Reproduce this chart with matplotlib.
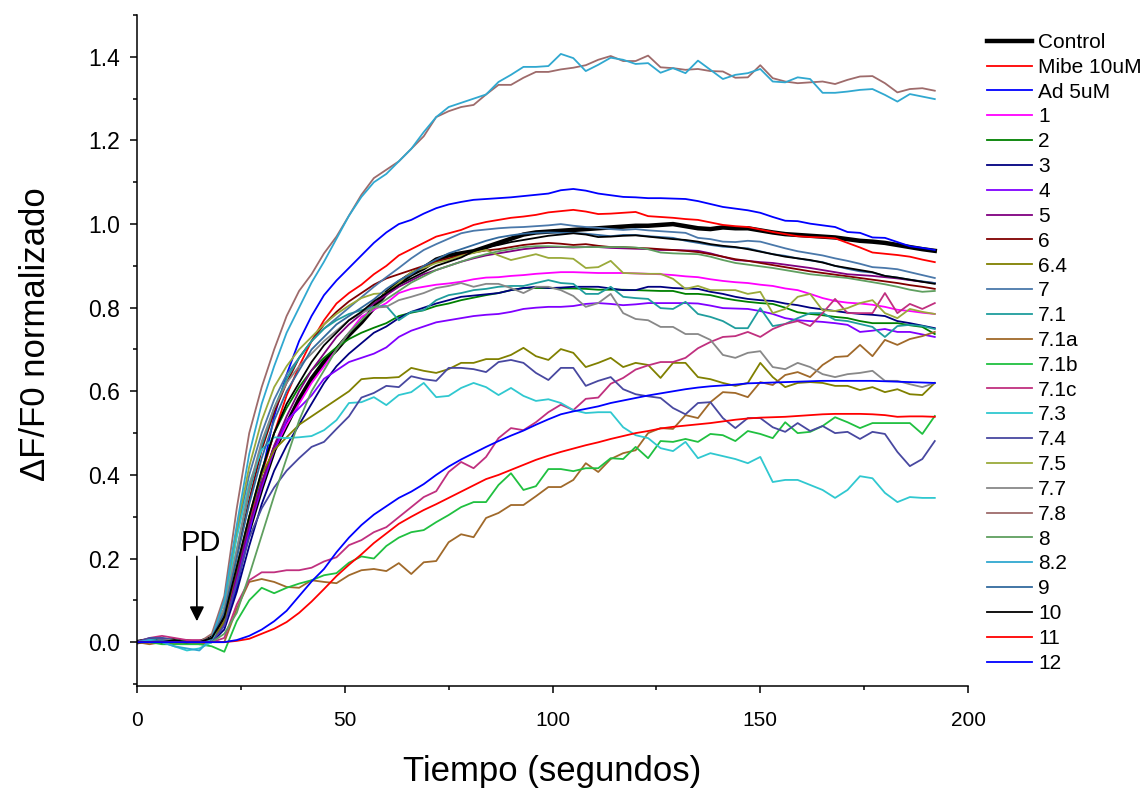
import matplotlib
matplotlib.use("Agg")
import matplotlib.pyplot as plt
from matplotlib.ticker import MultipleLocator, FormatStrFormatter

plt.rcParams['font.family'] = ['Liberation Sans', 'DejaVu Sans']

# tiempo en segundos (una muestra cada 3 s)
tiempo = list(range(0, 193, 3))

control = [0.0, 0.005, 0.0, 0.005, 0.0, 0.0, 0.01, 0.06, 0.16, 0.27, 0.37, 0.46, 0.52,
           0.58, 0.63, 0.67, 0.70, 0.735, 0.765, 0.80, 0.835, 0.86, 0.88, 0.895, 0.915, 0.925,
           0.93, 0.935, 0.945, 0.955, 0.965, 0.975, 0.98, 0.982, 0.984, 0.986, 0.988, 0.99, 0.992,
           0.994, 0.996, 0.996, 0.998, 1.0, 0.995, 0.99, 0.988, 0.992, 0.99, 0.99, 0.985, 0.98,
           0.976, 0.974, 0.972, 0.97, 0.968, 0.964, 0.96, 0.958, 0.955, 0.95, 0.945, 0.94, 0.936]
mibe = [0.0, 0.0, 0.005, 0.0, 0.0, 0.0, 0.0, 0.05, 0.15, 0.28, 0.40, 0.50, 0.59,
        0.66, 0.72, 0.77, 0.81, 0.835, 0.855, 0.88, 0.90, 0.925, 0.94, 0.955, 0.97, 0.978,
        0.986, 0.998, 1.005, 1.01, 1.015, 1.018, 1.022, 1.028, 1.031, 1.034, 1.03, 1.024, 1.025,
        1.027, 1.029, 1.019, 1.017, 1.015, 1.012, 1.01, 1.004, 0.998, 0.995, 0.993, 0.987, 0.981,
        0.976, 0.971, 0.969, 0.968, 0.966, 0.955, 0.944, 0.932, 0.929, 0.926, 0.922, 0.915, 0.909]
ad = [0.0, 0.0, 0.005, 0.0, 0.0, 0.0, 0.0, 0.04, 0.13, 0.26, 0.40, 0.54, 0.64,
      0.72, 0.78, 0.83, 0.865, 0.895, 0.925, 0.955, 0.98, 1.0, 1.01, 1.025, 1.038, 1.047,
      1.053, 1.058, 1.06, 1.062, 1.064, 1.067, 1.07, 1.073, 1.081, 1.084, 1.08, 1.073, 1.069,
      1.065, 1.064, 1.062, 1.062, 1.061, 1.06, 1.055, 1.048, 1.041, 1.037, 1.033, 1.027, 1.017,
      1.008, 1.007, 1.001, 0.997, 0.993, 0.981, 0.979, 0.968, 0.967, 0.957, 0.947, 0.943, 0.938]
s1 = [0.0, 0.0, 0.005, 0.005, 0.0, 0.0, 0.0, 0.05, 0.16, 0.28, 0.38, 0.46, 0.52,
      0.57, 0.62, 0.66, 0.70, 0.74, 0.778, 0.795, 0.811, 0.835, 0.845, 0.85, 0.855, 0.858,
      0.862, 0.868, 0.872, 0.873, 0.876, 0.878, 0.881, 0.883, 0.885, 0.885, 0.884, 0.883, 0.883,
      0.883, 0.882, 0.881, 0.88, 0.878, 0.875, 0.873, 0.868, 0.864, 0.861, 0.859, 0.855, 0.852,
      0.846, 0.842, 0.833, 0.823, 0.816, 0.812, 0.81, 0.807, 0.802, 0.795, 0.792, 0.788, 0.785]
s2 = [0.0, 0.005, 0.0, 0.0, 0.0, 0.0, 0.0, 0.05, 0.17, 0.30, 0.41, 0.50, 0.56,
      0.61, 0.65, 0.68, 0.705, 0.725, 0.74, 0.752, 0.763, 0.78, 0.788, 0.794, 0.804, 0.81,
      0.818, 0.824, 0.83, 0.835, 0.842, 0.847, 0.847, 0.847, 0.846, 0.846, 0.845, 0.843, 0.843,
      0.843, 0.842, 0.841, 0.84, 0.84, 0.833, 0.833, 0.83, 0.823, 0.818, 0.814, 0.811, 0.809,
      0.80, 0.789, 0.785, 0.782, 0.778, 0.775, 0.768, 0.763, 0.763, 0.763, 0.758, 0.754, 0.737]
s3 = [0.0, 0.0, 0.005, 0.0, 0.0, 0.0, 0.0, 0.03, 0.12, 0.23, 0.33, 0.41, 0.47,
      0.52, 0.57, 0.62, 0.66, 0.69, 0.715, 0.74, 0.755, 0.775, 0.79, 0.80, 0.81, 0.818,
      0.826, 0.829, 0.832, 0.835, 0.842, 0.847, 0.85, 0.847, 0.848, 0.85, 0.85, 0.85, 0.846,
      0.842, 0.842, 0.85, 0.85, 0.847, 0.846, 0.845, 0.838, 0.833, 0.826, 0.821, 0.818, 0.816,
      0.81, 0.806, 0.80, 0.796, 0.792, 0.788, 0.785, 0.783, 0.78, 0.768, 0.763, 0.757, 0.751]
s4 = [0.0, 0.0, 0.0, 0.005, 0.0, 0.0, 0.0, 0.04, 0.15, 0.27, 0.37, 0.46, 0.53,
      0.56, 0.59, 0.63, 0.65, 0.67, 0.68, 0.69, 0.705, 0.73, 0.745, 0.755, 0.765, 0.77,
      0.775, 0.78, 0.783, 0.785, 0.79, 0.797, 0.80, 0.802, 0.802, 0.804, 0.809, 0.811, 0.809,
      0.806, 0.808, 0.811, 0.811, 0.811, 0.811, 0.81, 0.805, 0.799, 0.798, 0.797, 0.792, 0.785,
      0.775, 0.77, 0.768, 0.766, 0.763, 0.759, 0.742, 0.745, 0.749, 0.742, 0.742, 0.736, 0.73]
s5 = [0.0, 0.005, 0.0, 0.0, 0.0, 0.0, 0.0, 0.05, 0.16, 0.28, 0.38, 0.47, 0.54,
      0.60, 0.65, 0.69, 0.73, 0.76, 0.785, 0.81, 0.83, 0.85, 0.865, 0.88, 0.89, 0.90,
      0.91, 0.918, 0.925, 0.93, 0.935, 0.94, 0.943, 0.945, 0.945, 0.944, 0.945, 0.945, 0.943,
      0.942, 0.941, 0.94, 0.938, 0.938, 0.937, 0.936, 0.93, 0.922, 0.914, 0.912, 0.909, 0.907,
      0.903, 0.899, 0.895, 0.89, 0.885, 0.88, 0.878, 0.876, 0.873, 0.87, 0.866, 0.862, 0.859]
s6 = [0.0, 0.0, 0.0, 0.0, 0.005, 0.0, 0.01, 0.08, 0.21, 0.34, 0.46, 0.55, 0.62,
      0.68, 0.72, 0.76, 0.79, 0.815, 0.835, 0.855, 0.87, 0.88, 0.89, 0.90, 0.91, 0.918,
      0.925, 0.932, 0.937, 0.94, 0.945, 0.95, 0.953, 0.955, 0.953, 0.95, 0.952, 0.948, 0.945,
      0.945, 0.943, 0.942, 0.94, 0.938, 0.936, 0.933, 0.928, 0.922, 0.916, 0.912, 0.907, 0.902,
      0.897, 0.892, 0.887, 0.883, 0.879, 0.875, 0.871, 0.867, 0.863, 0.859, 0.854, 0.85, 0.845]
s6_4 = [0.0, 0.0, 0.0, -0.005, 0.0, 0.0, 0.0, 0.05, 0.18, 0.30, 0.40, 0.46, 0.49,
        0.52, 0.54, 0.56, 0.58, 0.60, 0.629, 0.632, 0.632, 0.634, 0.656, 0.649, 0.644, 0.653,
        0.668, 0.668, 0.677, 0.677, 0.687, 0.704, 0.684, 0.675, 0.701, 0.692, 0.658, 0.668, 0.68,
        0.658, 0.668, 0.663, 0.632, 0.668, 0.668, 0.634, 0.629, 0.62, 0.613, 0.62, 0.668, 0.634,
        0.61, 0.62, 0.622, 0.62, 0.613, 0.613, 0.603, 0.61, 0.598, 0.605, 0.593, 0.591, 0.62]
s7 = [0.0, 0.005, 0.0, 0.0, 0.0, 0.0, 0.01, 0.10, 0.26, 0.40, 0.50, 0.58, 0.64,
      0.68, 0.72, 0.75, 0.775, 0.80, 0.825, 0.85, 0.873, 0.895, 0.918, 0.938, 0.952, 0.965,
      0.978, 0.984, 0.987, 0.99, 0.992, 0.993, 0.995, 0.997, 1.0, 0.996, 0.993, 0.991, 0.988,
      0.986, 0.988, 0.985, 0.983, 0.981, 0.979, 0.967, 0.964, 0.958, 0.957, 0.96, 0.958, 0.95,
      0.942, 0.935, 0.93, 0.925, 0.918, 0.912, 0.905, 0.897, 0.895, 0.892, 0.885, 0.878, 0.871]
s7_1 = [0.0, 0.005, 0.01, 0.005, 0.0, -0.005, 0.01, 0.08, 0.22, 0.36, 0.47, 0.56, 0.63,
        0.68, 0.72, 0.75, 0.77, 0.785, 0.794, 0.802, 0.804, 0.77, 0.79, 0.794, 0.818, 0.83,
        0.835, 0.842, 0.845, 0.85, 0.852, 0.852, 0.859, 0.866, 0.859, 0.857, 0.833, 0.833, 0.85,
        0.826, 0.823, 0.821, 0.799, 0.797, 0.814, 0.785, 0.778, 0.768, 0.751, 0.751, 0.799, 0.756,
        0.761, 0.775, 0.787, 0.787, 0.771, 0.768, 0.761, 0.754, 0.73, 0.756, 0.759, 0.756, 0.749]
s7_1a = [0.0, -0.005, 0.0, 0.0, 0.0, -0.005, 0.0, 0.0, 0.08, 0.144, 0.151, 0.144, 0.132,
         0.13, 0.148, 0.144, 0.141, 0.16, 0.172, 0.175, 0.17, 0.189, 0.163, 0.191, 0.194, 0.239,
         0.258, 0.251, 0.297, 0.309, 0.328, 0.328, 0.349, 0.371, 0.371, 0.388, 0.428, 0.407, 0.438,
         0.452, 0.459, 0.50, 0.512, 0.51, 0.543, 0.536, 0.574, 0.598, 0.596, 0.586, 0.622, 0.615,
         0.639, 0.646, 0.634, 0.663, 0.682, 0.684, 0.711, 0.684, 0.723, 0.711, 0.725, 0.732, 0.742]
s7_1b = [0.0, 0.0, -0.005, -0.005, -0.005, -0.005, -0.01, -0.023, 0.05, 0.10, 0.13, 0.117, 0.13,
         0.14, 0.148, 0.16, 0.165, 0.19, 0.205, 0.20, 0.23, 0.25, 0.263, 0.268, 0.287, 0.304,
         0.323, 0.335, 0.335, 0.376, 0.404, 0.364, 0.373, 0.414, 0.414, 0.409, 0.416, 0.416, 0.44,
         0.438, 0.467, 0.44, 0.481, 0.479, 0.486, 0.479, 0.498, 0.495, 0.481, 0.505, 0.498, 0.488,
         0.526, 0.50, 0.503, 0.517, 0.538, 0.526, 0.512, 0.524, 0.524, 0.524, 0.524, 0.498, 0.541]
s7_1c = [0.0, 0.01, 0.015, 0.01, 0.005, 0.005, 0.0, 0.01, 0.09, 0.148, 0.167, 0.167, 0.172,
         0.172, 0.178, 0.193, 0.203, 0.232, 0.244, 0.263, 0.275, 0.299, 0.323, 0.347, 0.361, 0.407,
         0.431, 0.416, 0.443, 0.488, 0.512, 0.507, 0.526, 0.55, 0.568, 0.555, 0.582, 0.585, 0.618,
         0.632, 0.652, 0.662, 0.67, 0.67, 0.68, 0.703, 0.718, 0.73, 0.732, 0.742, 0.73, 0.749,
         0.761, 0.768, 0.756, 0.787, 0.821, 0.787, 0.787, 0.787, 0.835, 0.787, 0.809, 0.797, 0.811]
s7_3 = [0.0, 0.005, 0.0, -0.01, -0.02, -0.015, 0.0, 0.08, 0.25, 0.38, 0.46, 0.49, 0.488,
        0.49, 0.493, 0.507, 0.531, 0.572, 0.574, 0.586, 0.567, 0.591, 0.598, 0.62, 0.586, 0.589,
        0.608, 0.62, 0.61, 0.591, 0.608, 0.589, 0.577, 0.581, 0.572, 0.555, 0.548, 0.55, 0.55,
        0.514, 0.495, 0.488, 0.464, 0.457, 0.479, 0.44, 0.452, 0.445, 0.438, 0.428, 0.443, 0.383,
        0.388, 0.388, 0.376, 0.364, 0.345, 0.364, 0.397, 0.392, 0.357, 0.335, 0.347, 0.345, 0.345]
s7_4 = [0.0, 0.01, 0.01, 0.005, 0.0, 0.0, 0.0, 0.04, 0.14, 0.25, 0.32, 0.37, 0.41,
        0.44, 0.467, 0.479, 0.51, 0.54, 0.585, 0.596, 0.613, 0.61, 0.636, 0.629, 0.625, 0.656,
        0.656, 0.653, 0.646, 0.67, 0.675, 0.668, 0.644, 0.627, 0.656, 0.656, 0.613, 0.625, 0.634,
        0.605, 0.593, 0.588, 0.584, 0.56, 0.545, 0.572, 0.574, 0.536, 0.512, 0.536, 0.536, 0.514,
        0.503, 0.524, 0.505, 0.517, 0.50, 0.503, 0.486, 0.503, 0.498, 0.455, 0.421, 0.438, 0.481]
s7_5 = [0.0, 0.0, 0.005, 0.0, 0.0, 0.0, 0.01, 0.10, 0.27, 0.42, 0.53, 0.61, 0.66,
        0.70, 0.73, 0.76, 0.785, 0.805, 0.823, 0.833, 0.835, 0.859, 0.885, 0.895, 0.907, 0.914,
        0.924, 0.931, 0.938, 0.925, 0.914, 0.921, 0.928, 0.919, 0.919, 0.917, 0.895, 0.897, 0.912,
        0.883, 0.882, 0.881, 0.881, 0.869, 0.845, 0.852, 0.842, 0.842, 0.842, 0.833, 0.838, 0.787,
        0.797, 0.826, 0.833, 0.794, 0.792, 0.799, 0.811, 0.818, 0.787, 0.775, 0.797, 0.79, 0.785]
s7_7 = [0.0, 0.0, 0.005, 0.005, 0.0, 0.0, 0.01, 0.08, 0.22, 0.37, 0.48, 0.56, 0.62,
        0.66, 0.69, 0.72, 0.745, 0.77, 0.787, 0.80, 0.802, 0.818, 0.826, 0.835, 0.847, 0.852,
        0.859, 0.85, 0.857, 0.857, 0.847, 0.835, 0.85, 0.85, 0.842, 0.828, 0.802, 0.811, 0.833,
        0.787, 0.773, 0.77, 0.754, 0.754, 0.737, 0.737, 0.723, 0.687, 0.68, 0.692, 0.696, 0.658,
        0.653, 0.668, 0.658, 0.641, 0.634, 0.641, 0.644, 0.649, 0.625, 0.625, 0.617, 0.61, 0.62]
s7_8 = [0.0, 0.0, 0.005, 0.0, 0.0, 0.0, 0.02, 0.11, 0.32, 0.50, 0.61, 0.70, 0.78,
        0.84, 0.88, 0.93, 0.97, 1.02, 1.07, 1.11, 1.13, 1.15, 1.18, 1.21, 1.256, 1.27,
        1.28, 1.285, 1.31, 1.333, 1.333, 1.35, 1.364, 1.364, 1.37, 1.374, 1.38, 1.393, 1.402,
        1.39, 1.39, 1.403, 1.375, 1.373, 1.369, 1.371, 1.366, 1.365, 1.35, 1.351, 1.38, 1.349,
        1.341, 1.337, 1.339, 1.341, 1.335, 1.345, 1.353, 1.354, 1.337, 1.315, 1.323, 1.325, 1.319]
s8 = [0.0, 0.0, 0.0, 0.005, 0.0, 0.0, 0.0, 0.02, 0.07, 0.16, 0.255, 0.35, 0.44,
      0.53, 0.60, 0.65, 0.70, 0.74, 0.77, 0.80, 0.82, 0.84, 0.86, 0.875, 0.89, 0.90,
      0.91, 0.92, 0.928, 0.935, 0.94, 0.945, 0.947, 0.947, 0.946, 0.945, 0.945, 0.945, 0.945,
      0.945, 0.944, 0.94, 0.932, 0.93, 0.929, 0.928, 0.922, 0.914, 0.907, 0.903, 0.899, 0.895,
      0.89, 0.885, 0.88, 0.877, 0.874, 0.871, 0.866, 0.861, 0.856, 0.85, 0.843, 0.838, 0.84]
s8_2 = [0.0, 0.005, 0.0, -0.01, -0.015, -0.02, 0.01, 0.10, 0.28, 0.45, 0.57, 0.66, 0.74,
        0.80, 0.86, 0.91, 0.965, 1.02, 1.065, 1.10, 1.12, 1.15, 1.18, 1.22, 1.256, 1.28,
        1.29, 1.30, 1.31, 1.34, 1.357, 1.376, 1.376, 1.378, 1.407, 1.397, 1.366, 1.381, 1.398,
        1.393, 1.383, 1.385, 1.362, 1.373, 1.361, 1.391, 1.369, 1.347, 1.357, 1.361, 1.371, 1.341,
        1.339, 1.351, 1.347, 1.314, 1.314, 1.317, 1.321, 1.323, 1.309, 1.293, 1.311, 1.305, 1.299]
s9 = [0.0, 0.0, 0.005, 0.0, 0.0, 0.0, 0.01, 0.07, 0.20, 0.33, 0.44, 0.53, 0.60,
      0.65, 0.70, 0.73, 0.76, 0.78, 0.80, 0.82, 0.845, 0.865, 0.88, 0.90, 0.915, 0.93,
      0.94, 0.95, 0.96, 0.968, 0.973, 0.977, 0.979, 0.98, 0.979, 0.979, 0.977, 0.974, 0.971,
      0.974, 0.974, 0.971, 0.969, 0.967, 0.96, 0.955, 0.95, 0.946, 0.944, 0.942, 0.935, 0.928,
      0.924, 0.918, 0.913, 0.909, 0.90, 0.893, 0.887, 0.884, 0.876, 0.872, 0.867, 0.863, 0.859]
s10 = [0.0, 0.0, 0.0, 0.005, 0.0, 0.0, 0.01, 0.06, 0.18, 0.30, 0.41, 0.50, 0.57,
       0.62, 0.67, 0.71, 0.74, 0.77, 0.79, 0.815, 0.835, 0.855, 0.87, 0.885, 0.90, 0.91,
       0.92, 0.935, 0.945, 0.95, 0.957, 0.962, 0.967, 0.972, 0.975, 0.978, 0.975, 0.969, 0.97,
       0.972, 0.973, 0.97, 0.967, 0.964, 0.962, 0.958, 0.952, 0.948, 0.945, 0.94, 0.934, 0.928,
       0.922, 0.918, 0.914, 0.908, 0.90, 0.895, 0.89, 0.885, 0.876, 0.872, 0.867, 0.862, 0.857]
s11 = [0.0, 0.0, 0.0, 0.0, 0.0, 0.0, 0.0, 0.0, 0.003, 0.008, 0.02, 0.032, 0.048,
       0.07, 0.097, 0.127, 0.158, 0.185, 0.21, 0.237, 0.26, 0.283, 0.30, 0.316, 0.33, 0.345,
       0.36, 0.375, 0.39, 0.40, 0.412, 0.424, 0.436, 0.446, 0.455, 0.463, 0.471, 0.478, 0.486,
       0.493, 0.50, 0.505, 0.511, 0.515, 0.518, 0.521, 0.524, 0.528, 0.532, 0.535, 0.537, 0.538,
       0.539, 0.541, 0.543, 0.545, 0.546, 0.546, 0.546, 0.545, 0.543, 0.539, 0.54, 0.54, 0.539]
s12 = [0.0, 0.0, 0.0, 0.0, 0.0, 0.0, 0.0, 0.0, 0.005, 0.015, 0.03, 0.05, 0.075,
       0.11, 0.145, 0.175, 0.215, 0.25, 0.28, 0.305, 0.325, 0.345, 0.36, 0.378, 0.40, 0.42,
       0.437, 0.452, 0.467, 0.481, 0.494, 0.506, 0.52, 0.533, 0.545, 0.552, 0.558, 0.564, 0.572,
       0.578, 0.584, 0.59, 0.595, 0.60, 0.605, 0.609, 0.612, 0.614, 0.616, 0.619, 0.62, 0.621,
       0.622, 0.623, 0.624, 0.625, 0.625, 0.625, 0.625, 0.625, 0.624, 0.623, 0.622, 0.621, 0.62]

etiquetas = ['Control', 'Mibe 10uM', 'Ad 5uM', '1', '2', '3', '4', '5', '6', '6.4', '7',
             '7.1', '7.1a', '7.1b', '7.1c', '7.3', '7.4', '7.5', '7.7', '7.8', '8', '8.2',
             '9', '10', '11', '12']
series = [control, mibe, ad, s1, s2, s3, s4, s5, s6, s6_4, s7, s7_1, s7_1a, s7_1b, s7_1c,
          s7_3, s7_4, s7_5, s7_7, s7_8, s8, s8_2, s9, s10, s11, s12]
colores = ['#000000', '#ff0000', '#0000ff', '#ff00ff', '#008000', '#000080', '#8000ff',
           '#800080', '#800000', '#808000', '#4a78aa', '#1f9d9d', '#a0692a', '#20c040',
           '#c0307f', '#30c8d0', '#4848a0', '#9aaa3a', '#888888', '#9e6b6b', '#5f9f5f',
           '#30a8d0', '#336a9e', '#000000', '#ff0000', '#0000ff']

fig = plt.figure(figsize=(11.41, 7.88), dpi=100)
ax = fig.add_axes([0.1201, 0.1294, 0.7283, 0.8515])

for nombre, valores, color in zip(etiquetas, series, colores):
    grosor = 3.2 if nombre == 'Control' else 1.3
    ax.plot(tiempo, valores, color=color, linewidth=grosor, label=nombre)

ax.set_xlim(0, 200)
ax.set_ylim(-0.105, 1.5)
ax.xaxis.set_major_locator(MultipleLocator(50))
ax.xaxis.set_minor_locator(MultipleLocator(25))
ax.yaxis.set_major_locator(MultipleLocator(0.2))
ax.yaxis.set_minor_locator(MultipleLocator(0.1))
ax.yaxis.set_major_formatter(FormatStrFormatter('%.1f'))

for lado in ['top', 'right']:
    ax.spines[lado].set_visible(False)
for lado in ['left', 'bottom']:
    ax.spines[lado].set_linewidth(1.1)
ax.tick_params(which='major', direction='out', length=5, width=1.1)
ax.tick_params(which='minor', direction='out', length=3, width=1.1)
ax.tick_params(axis='x', which='major', labelsize=15, pad=13)
ax.tick_params(axis='y', which='major', labelsize=16.5, pad=7)

ax.set_xlabel('Tiempo (segundos)', fontsize=25)
ax.xaxis.set_label_coords(0.5, -0.1025)
ax.set_ylabel('\u0394F/F0 normalizado', fontsize=25,
              family=['Liberation Sans Narrow', 'Liberation Sans', 'DejaVu Sans'])
ax.yaxis.set_label_coords(-0.102, 0.525)

# marca de la aplicacion de PD
ax.annotate('', xy=(14.4, 0.05), xytext=(14.4, 0.205),
            arrowprops=dict(arrowstyle='-|>', color='black', lw=1.2,
                            mutation_scale=22, shrinkA=0, shrinkB=0))
ax.text(15.3, 0.218, 'PD', ha='center', va='baseline', fontsize=21)

ax.legend(loc='upper left', bbox_to_anchor=(987 / 1141, 1 - 33 / 788),
          bbox_transform=fig.transFigure, frameon=False, fontsize=15,
          handlelength=2.15, handletextpad=0.3, labelspacing=0.28,
          borderpad=0, borderaxespad=0)

fig.savefig('out.png', dpi=100)
